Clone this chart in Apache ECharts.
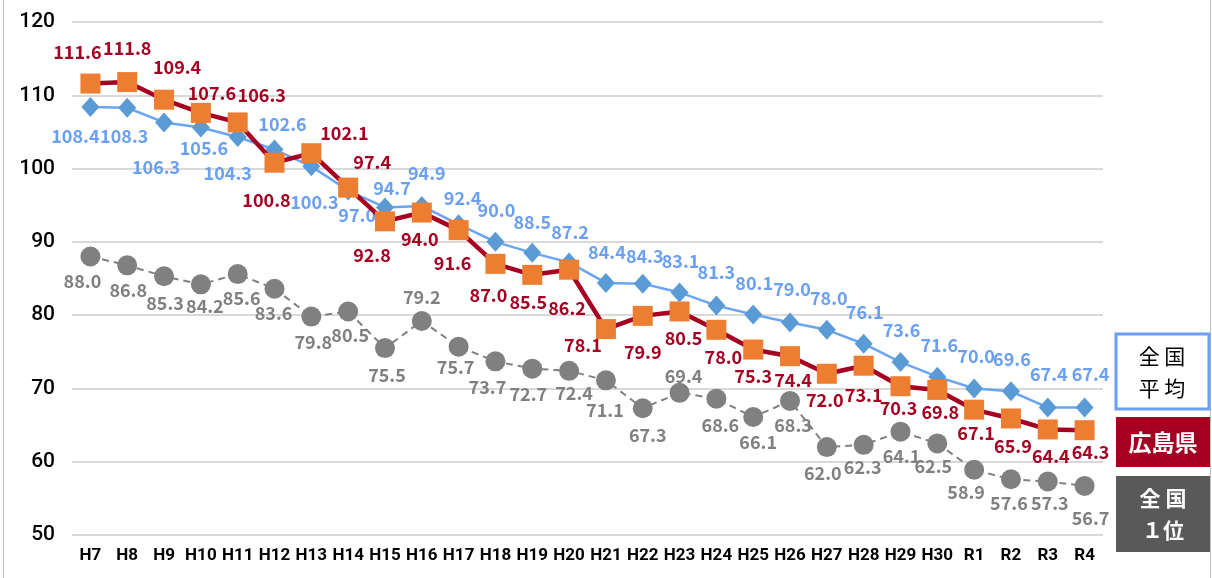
<!DOCTYPE html>
<html>
<head>
<meta charset="utf-8">
<script src="https://cdn.jsdelivr.net/npm/echarts@6/dist/echarts.min.js"></script>
<style>
html,body{margin:0;padding:0;background:#fff;}
#chart{width:1212px;height:578px;}
</style>
</head>
<body>
<div id="chart"></div>
<script>
// 年度
var years = ['H7','H8','H9','H10','H11','H12','H13','H14','H15','H16','H17','H18','H19','H20',
    'H21','H22','H23','H24','H25','H26','H27','H28','H29','H30','R1','R2','R3','R4'];

// 全国平均
var national = [108.4,108.3,106.3,105.6,104.3,102.6,100.3,97.0,94.7,94.9,92.4,90.0,88.5,87.2,
    84.4,84.3,83.1,81.3,80.1,79.0,78.0,76.1,73.6,71.6,70.0,69.6,67.4,67.4];
// 広島県
var hiroshima = [111.6,111.8,109.4,107.6,106.3,100.8,102.1,97.4,92.8,94.0,91.6,87.0,85.5,86.2,
    78.1,79.9,80.5,78.0,75.3,74.4,72.0,73.1,70.3,69.8,67.1,65.9,64.4,64.3];
// 全国1位
var best = [88.0,86.8,85.3,84.2,85.6,83.6,79.8,80.5,75.5,79.2,75.7,73.7,72.7,72.4,
    71.1,67.3,69.4,68.6,66.1,68.3,62.0,62.3,64.1,62.5,58.9,57.6,57.3,56.7];

var yTicks = [50,60,70,80,90,100,110,120];

// ラベルの位置（点からのずらし量 px）
var nationalOff = [[-15,29],[-3,28],[-8,45],[3,21],[-10,36],[8,-25],[3,36],[9,25],[7,-19],[5,-33],
    [4,-26],[1,-32],[0,-31],[1,-30],[1,-31],[2,-27],[1,-31],[0,-33],[1,-31],[2,-33],
    [2,-32],[1,-32],[1,-32],[2,-32],[2,-32],[1,-32],[1,-33],[6,-33]];
var hiroOff = [[-13,-31],[0,-34],[13,-33],[11,-20],[24,-27],[-8,37],[33,-20],[24,-25],[-13,34],[-2,27],
    [-6,33],[-7,31],[-4,27],[-2,38],[-23,16],[0,36],[4,27],[7,27],[0,27],[3,24],
    [-2,26],[0,29],[-2,22],[3,22],[2,23],[2,28],[3,27],[6,22]];
var bestOff = [[-8,25],[1,25],[1,27],[4,22],[4,24],[-1,24],[2,26],[2,24],[2,27],[0,-24],
    [-3,21],[-8,26],[-4,26],[5,22],[-1,30],[5,27],[4,-17],[4,26],[5,25],[3,24],
    [-4,26],[-1,22],[1,24],[-4,23],[-8,22],[-2,24],[2,22],[6,32]];

function withLabels(values, offs) {
    return values.map(function (v, i) {
        return { value: v, label: { offset: offs[i] } };
    });
}

var labelFont = "'Noto Sans CJK JP', sans-serif";
var fmt = function (p) { return p.value.toFixed(1); };

var chart = echarts.init(document.getElementById('chart'));
chart.setOption({
    animation: false,
    grid: { left: 72, right: 109, top: 22, bottom: 43 },
    xAxis: {
        type: 'category',
        data: years,
        boundaryGap: true,
        axisLine: { show: false },
        axisTick: { show: false },
        axisLabel: {
            interval: 0,
            color: '#000', fontSize: 17, fontWeight: 'bold', margin: 12,
            fontFamily: 'Roboto, sans-serif'
        }
    },
    yAxis: {
        type: 'value',
        min: yTicks[0], max: yTicks[yTicks.length - 1], interval: 10,
        axisLine: { show: false },
        axisTick: { show: false },
        splitLine: { lineStyle: { color: '#d9d9d9', width: 2 } },
        axisLabel: {
            color: '#000', fontSize: 21, fontWeight: 500, margin: 17,
            fontFamily: 'Roboto, sans-serif'
        }
    },
    series: [
        {
            name: '全国1位', type: 'line', z: 2,
            data: withLabels(best, bestOff),
            symbol: 'circle', symbolSize: 20,
            itemStyle: { color: '#808080' },
            lineStyle: { color: '#808080', width: 2, type: [7, 5] },
            label: {
                show: true, position: 'inside', color: '#808080', fontSize: 18,
                fontFamily: labelFont, fontWeight: 'bold', formatter: fmt
            }
        },
        {
            name: '全国平均', type: 'line', z: 3,
            data: withLabels(national, nationalOff),
            symbol: 'diamond', symbolSize: [18, 20],
            itemStyle: { color: '#5b9bd5' },
            lineStyle: { color: '#6aa5f5', width: 2.5 },
            label: {
                show: true, position: 'inside', color: '#6a9ff2', fontSize: 18,
                fontFamily: labelFont, fontWeight: 'bold', formatter: fmt
            }
        },
        {
            name: '広島県', type: 'line', z: 4,
            data: withLabels(hiroshima, hiroOff),
            symbol: 'rect', symbolSize: 20,
            itemStyle: { color: '#ed7d31' },
            lineStyle: { color: '#a50021', width: 4.5 },
            label: {
                show: true, position: 'inside', color: '#a50021', fontSize: 18,
                fontFamily: labelFont, fontWeight: 'bold', formatter: fmt
            }
        }
    ],
    graphic: [
        { type: 'line', shape: { x1: 3.5, y1: 0, x2: 3.5, y2: 578 }, style: { stroke: '#bfbfbf', lineWidth: 1 } },
        { type: 'line', shape: { x1: 1210.5, y1: 0, x2: 1210.5, y2: 578 }, style: { stroke: '#bfbfbf', lineWidth: 1 } },
        {
            type: 'rect', shape: { x: 1116, y: 334, width: 93, height: 75 },
            style: { fill: '#fff', stroke: '#6aa0f0', lineWidth: 3 }
        },
        {
            type: 'text', x: 1162, y: 372,
            style: {
                text: '全 国\n平 均', fill: '#000', font: "21px 'Noto Sans CJK JP'",
                align: 'center', verticalAlign: 'middle', lineHeight: 32
            }
        },
        { type: 'rect', shape: { x: 1116, y: 417, width: 94, height: 50 }, style: { fill: '#a50021' } },
        {
            type: 'text', x: 1163, y: 442,
            style: {
                text: '広島県', fill: '#fff', font: "bold 23px 'Noto Sans CJK JP'",
                align: 'center', verticalAlign: 'middle'
            }
        },
        { type: 'rect', shape: { x: 1116, y: 476, width: 94, height: 76 }, style: { fill: '#595959' } },
        {
            type: 'text', x: 1163, y: 514,
            style: {
                text: '全 国\n１位', fill: '#fff', font: "bold 21px 'Noto Sans CJK JP'",
                align: 'center', verticalAlign: 'middle', lineHeight: 32
            }
        }
    ]
});
</script>
</body>
</html>
